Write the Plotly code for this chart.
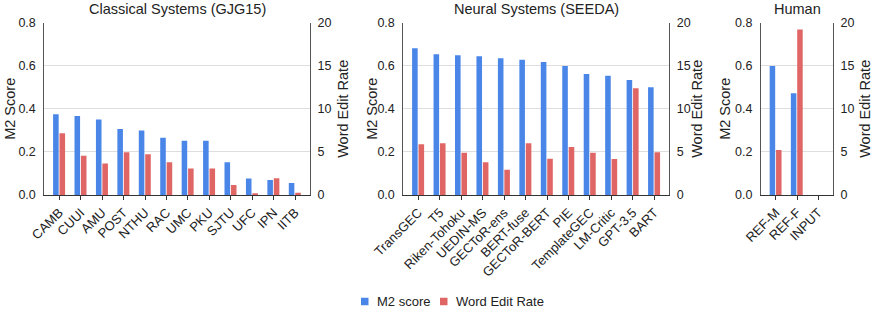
import plotly.graph_objects as go

W, H = 872, 309

classical_systems = ["CAMB", "CUUI", "AMU", "POST", "NTHU", "RAC", "UMC", "PKU", "SJTU", "UFC", "IPN", "IITB"]
classical_m2 = [0.375, 0.367, 0.351, 0.306, 0.300, 0.266, 0.252, 0.252, 0.152, 0.077, 0.070, 0.056]
classical_wer = [7.16, 4.56, 3.67, 4.95, 4.72, 3.79, 3.09, 3.09, 1.16, 0.19, 1.93, 0.27]

neural_systems = ["TransGEC", "T5", "Riken-Tohoku", "UEDIN-MS", "GECToR-ens", "BERT-fuse",
                  "GECToR-BERT", "PIE", "TemplateGEC", "LM-Critic", "GPT-3.5", "BART"]
neural_m2 = [0.681, 0.653, 0.649, 0.644, 0.635, 0.628, 0.618, 0.599, 0.562, 0.554, 0.534, 0.500]
neural_wer = [5.88, 6.00, 4.91, 3.79, 2.94, 6.00, 4.22, 5.57, 4.91, 4.18, 12.38, 4.95]

human_systems = ["REF-M", "REF-F", "INPUT"]
human_m2 = [0.599, 0.472, 0.0]
human_wer = [5.22, 19.2, 0.0]

titles = ["Classical Systems (GJG15)", "Neural Systems (SEEDA)", "Human"]
series_names = ["M2 score", "Word Edit Rate"]
m2_ticks = [0.0, 0.2, 0.4, 0.6, 0.8]
wer_ticks = [0, 5, 10, 15, 20]

BLUE = "#4a86e8"
RED = "#e06666"
FONT = "Liberation Sans, Arial, sans-serif"

panels = [
    (classical_systems, classical_m2, classical_wer, (44.3, 310.0)),
    (neural_systems, neural_m2, neural_wer, (403.3, 669.3)),
    (human_systems, human_m2, human_wer, (761.0, 833.0)),
]

y_top_px, y_bot_px = 22.7, 195.0
ydom = [1 - y_bot_px / H, 1 - y_top_px / H]

fig = go.Figure()
layout = dict(
    width=W, height=H,
    margin=dict(l=0, r=0, t=0, b=0),
    paper_bgcolor="white", plot_bgcolor="white",
    font=dict(family=FONT, size=12, color="#222"),
    showlegend=False,
    annotations=[],
    shapes=[],
)

for i, (cats, m2, wer, (x0, x1)) in enumerate(panels):
    xi = "" if i == 0 else str(i + 1)
    yl = "" if i == 0 else str(2 * i + 1)
    yr = str(2 * i + 2)
    n = len(cats)
    fig.add_trace(go.Bar(
        x=cats, y=m2, name=series_names[0], marker_color=BLUE, marker_line_width=0,
        xaxis="x" + xi, yaxis="y" + yl, width=0.26, offset=-0.29,
    ))
    fig.add_trace(go.Bar(
        x=cats, y=wer, name=series_names[1], marker_color=RED, marker_line_width=0,
        xaxis="x" + xi, yaxis="y" + yr, width=0.26, offset=0.01,
    ))
    layout["xaxis" + xi] = dict(
        domain=[x0 / W, x1 / W], anchor="y" + yl, type="category",
        range=[-0.7, n - 0.3], showline=True, linecolor="#333", linewidth=1,
        ticks="outside", ticklen=4, tickcolor="#333", tickangle=-45,
        tickfont=dict(size=13, color="#222"), showgrid=False, automargin=False,
    )
    layout["yaxis" + yl] = dict(
        domain=ydom, anchor="x" + xi, range=[0, 0.8], tickvals=m2_ticks,
        tickformat=".1f", showline=True, linecolor="#555", linewidth=1,
        showgrid=True, gridcolor="#dedede", zeroline=False, ticks="",
        ticklabelstandoff=5, tickfont=dict(size=12.5, color="#222"), automargin=False,
    )
    layout["yaxis" + yr] = dict(
        domain=ydom, anchor="x" + xi, overlaying="y" + yl, side="right",
        range=[0, 20], tickvals=wer_ticks, showline=True, linecolor="#555", linewidth=1,
        showgrid=False, zeroline=False, ticks="", ticklabelstandoff=4,
        tickfont=dict(size=12.5, color="#222"), automargin=False,
    )
    cx = (x0 + x1) / 2
    layout["annotations"].append(dict(
        text=titles[i], x=cx / W, y=1 - 9 / H, xref="paper", yref="paper",
        xanchor="center", yanchor="middle", showarrow=False,
        font=dict(size=14.5, color="#222"),
    ))

left_title_x = [10, 372, 725]
right_title_x = [343, 697, 865]
yc = 1 - ((y_top_px + y_bot_px) / 2) / H
for lx, rx in zip(left_title_x, right_title_x):
    layout["annotations"].append(dict(
        text="M2 Score", x=lx / W, y=yc, xref="paper", yref="paper",
        xanchor="center", yanchor="middle", textangle=-90, showarrow=False,
        font=dict(size=14.5, color="#222"),
    ))
    layout["annotations"].append(dict(
        text="Word Edit Rate", x=rx / W, y=yc, xref="paper", yref="paper",
        xanchor="center", yanchor="middle", textangle=-90, showarrow=False,
        font=dict(size=14.5, color="#222"),
    ))

# legend (drawn as small squares + labels, Google-Sheets style)
leg_y = 301.5
for (sx, tx), name, col in zip([(361, 375), (440, 454)], series_names, [BLUE, RED]):
    layout["shapes"].append(dict(
        type="rect", xref="paper", yref="paper",
        x0=sx / W, x1=(sx + 7.5) / W, y0=1 - (leg_y + 3.75) / H, y1=1 - (leg_y - 3.75) / H,
        fillcolor=col, line=dict(width=0),
    ))
    layout["annotations"].append(dict(
        text=name, x=tx / W, y=1 - leg_y / H, xref="paper", yref="paper",
        xanchor="left", yanchor="middle", showarrow=False,
        font=dict(size=13, color="#222"),
    ))

fig.update_layout(**layout)
fig.write_html("out.html", config={"displayModeBar": False},
               post_script="document.body.style.margin='0px';")
